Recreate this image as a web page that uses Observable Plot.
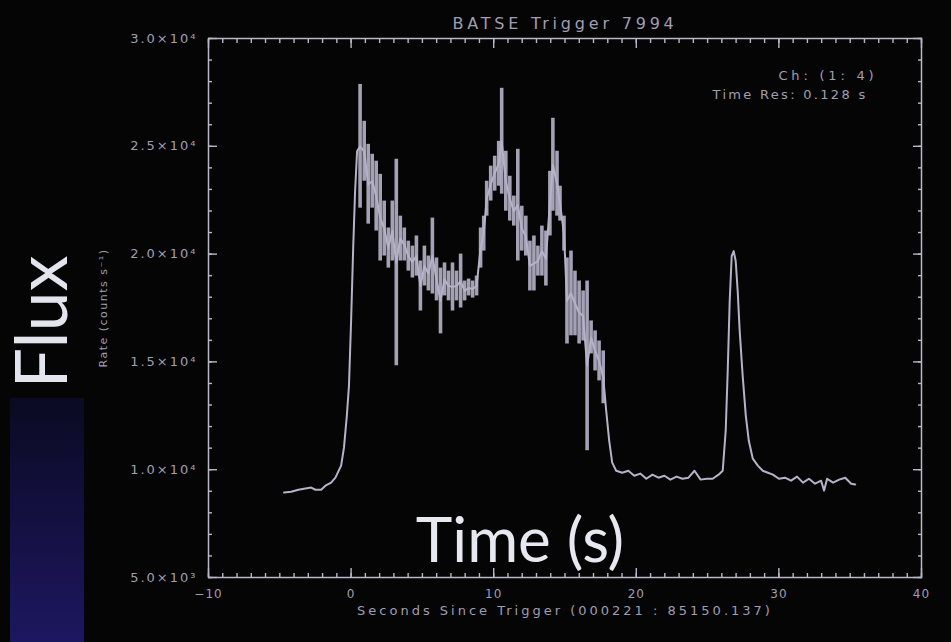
<!DOCTYPE html>
<html><head><meta charset="utf-8">
<script src="https://cdn.jsdelivr.net/npm/d3@7"></script>
<script src="https://cdn.jsdelivr.net/npm/@observablehq/plot@0.6"></script>
<style>
html,body{margin:0;padding:0;background:#050505;}
#wrap{position:relative;width:951px;height:642px;overflow:hidden;background:#050505;}
#wrap svg{position:absolute;left:0;top:0;}
#bar{position:absolute;left:10px;top:398px;width:74px;height:244px;background:linear-gradient(#0a0a22,#1d1760);}
#flux{position:absolute;left:40px;top:322px;writing-mode:vertical-rl;transform:translate(-50%,-50%) rotate(180deg);font:72px Lato,"Open Sans",sans-serif;color:#e4e4ee;white-space:nowrap;line-height:0.8;}
#time{position:absolute;left:520px;top:538px;transform:translate(-50%,-50%);font:62px Lato,"Open Sans",sans-serif;color:#e8e8f0;white-space:nowrap;line-height:1;}
</style></head><body><div id="wrap"><div id="bar"></div></div>
<script>
// ---- data ----
const title = "BATSE Trigger 7994";
const xLabel = "Seconds Since Trigger (000221 : 85150.137)";
const yLabel = "Rate (counts s\u207B\u00B9)";
const notes = ["Ch: (1: 4)", "Time Res: 0.128 s"];
const xTicks = [-10, 0, 10, 20, 30, 40];
const yTicks = [5000, 10000, 15000, 20000, 25000, 30000];

const time = [-4.7,-4.2,-3.7,-3.3,-2.8,-2.5,-2.1,-1.8,-1.4,-1.1,-0.7,-0.5,-0.3,-0.15,0.0,0.14,0.28,0.42,
0.63,0.92,1.20,1.48,1.76,2.04,2.32,2.61,2.89,3.17,3.45,3.73,4.01,4.30,4.58,4.86,5.14,5.42,5.70,5.99,6.27,6.55,6.83,7.11,7.39,7.68,7.96,8.24,8.52,8.80,9.08,9.30,9.51,9.79,10.07,10.35,10.56,10.85,11.13,11.41,11.69,11.97,12.25,12.54,12.82,13.10,13.38,13.66,13.94,14.15,14.44,14.65,14.93,15.14,15.42,15.70,15.99,16.27,16.55,16.83,17.11,17.39,17.68,
17.89,18.10,18.31,18.59,19.01,19.44,19.86,20.28,20.70,21.13,21.55,21.97,22.39,22.82,23.24,23.66,24.08,24.51,24.93,25.35,25.77,26.06,26.27,26.41,26.55,26.69,26.83,26.97,27.11,27.25,27.46,27.68,27.89,28.17,28.52,28.87,29.23,29.58,30.00,30.42,30.85,31.27,31.69,32.11,32.54,32.96,33.17,33.38,33.80,34.23,34.65,35.07,35.35];

const rate = [8940,8980,9070,9120,9170,9070,9070,9260,9400,9630,10190,11020,12500,13890,16900,20140,22920,24770,
25000,24770,23240,23380,22690,21700,21180,20280,21070,19610,20720,20440,19910,19630,19910,18520,19450,19100,19910,18820,17830,18820,18520,18480,18520,18750,18290,18430,18380,18520,20280,20950,22570,23240,23750,24190,25230,23380,22570,21990,22270,21180,20840,19450,19560,19680,20140,19790,22340,24150,23260,22340,20950,17830,18180,17710,17290,17130,14820,16130,15510,15050,14280,
12730,11340,10330,9950,9860,9950,9720,9820,9580,9770,9630,9720,9540,9680,9580,9630,9950,9540,9580,9580,9770,9950,11810,14580,17830,19910,20140,19680,18290,16440,14350,12500,11340,10510,10190,9950,9860,9770,9580,9630,9490,9680,9400,9580,9350,9490,9030,9580,9400,9540,9630,9350,9310];

// error bars in the burst
const errTime = [0.63,0.92,1.20,1.48,1.76,2.04,2.32,2.61,2.89,3.17,3.45,3.73,4.01,4.30,4.58,4.86,5.14,5.42,5.70,5.99,6.27,6.55,6.83,7.11,7.39,7.68,7.96,8.24,8.52,8.80,9.08,9.30,9.51,9.79,10.07,10.35,10.56,10.85,11.13,11.41,11.69,11.97,12.25,12.54,12.82,13.10,13.38,13.66,13.94,14.15,14.44,14.65,14.93,15.14,15.42,15.70,15.99,16.27,16.55,16.83,17.11,17.39,17.68];
const errHigh = [27870,26160,25090,24630,24310,23700,22460,21210,22460,24400,21760,21210,20600,20370,20840,19680,20370,19910,21670,19820,19350,19590,19210,19590,19210,20000,18750,18840,18750,18980,21210,21760,23380,24080,24540,25230,27690,24770,23610,22690,24860,22220,21760,20600,20840,20370,21300,21070,23840,26300,24770,23150,21760,19820,20140,19210,18750,18290,18750,16900,16440,15970,15510];
const errLow = [22130,23380,21390,22130,21070,19680,19910,19350,19680,14820,19680,19680,19210,18890,18980,17360,18520,18290,18150,17830,16300,18060,17830,17360,17830,17500,17830,18060,17960,18060,19350,20140,21760,22460,22920,23150,22780,21990,21530,21300,19680,20140,19910,18290,18290,18980,18980,18520,20840,21990,21760,21530,20140,15830,16210,16210,15830,15970,10880,15370,14580,14120,13060];

// ---- build ----
const curve = time.map((t, i) => ({t, r: rate[i]}));
const bars = errTime.map((t, i) => ({t, lo: errLow[i], hi: errHigh[i]}));
const xMinor = d3.range(-10, 40.5, 1);
const yMinor = d3.range(5000, 30001, 1000);
const sup = {3: "\u00B3", 4: "\u2074"};
const fmtY = d => { const e = Math.floor(Math.log10(d)); return (d / 10 ** e).toFixed(1) + "\u00D710" + sup[e]; };
const fmtX = d => d < 0 ? "\u2212" + Math.abs(d) : String(d);

const axisColor = "#bab8c8";
const textColor = "#a09eb0";
const dataColor = "#b6b2c8";
const font = "DejaVu Sans";

const tickAxis = (kind, anchor, ticks, size) => {
  const o = {anchor, ticks, tickSize: size, tickFormat: () => "", label: null, stroke: axisColor, strokeWidth: 1.4};
  if (kind === "x") { o.dy = anchor === "bottom" ? -size : size; return Plot.axisX(ticks, o); }
  o.dx = anchor === "left" ? size : -size; return Plot.axisY(ticks, o);
};

const chart = Plot.plot({
  width: 951, height: 642,
  marginLeft: 208, marginRight: 30, marginTop: 38, marginBottom: 65,
  style: {background: "transparent", fontFamily: font},
  x: {domain: [-10, 40]},
  y: {domain: [5000, 30000]},
  marks: [
    Plot.ruleX(bars, {x: "t", y1: "lo", y2: "hi", stroke: dataColor, strokeWidth: 3.6, strokeOpacity: 0.9}),
    Plot.line(curve, {x: "t", y: "r", stroke: dataColor, strokeWidth: 2}),
    Plot.frame({stroke: axisColor, strokeWidth: 1.5}),
    tickAxis("x", "bottom", xMinor, 4), tickAxis("x", "bottom", xTicks, 9),
    tickAxis("x", "top", xMinor, 4), tickAxis("x", "top", xTicks, 9),
    tickAxis("y", "left", yMinor, 4), tickAxis("y", "left", yTicks, 9),
    tickAxis("y", "right", yMinor, 4), tickAxis("y", "right", yTicks, 9),
    Plot.axisX(xTicks, {anchor: "bottom", tickSize: 0, tickPadding: 12, tickFormat: fmtX, label: null, fill: textColor, fontSize: 12}),
    Plot.axisY(yTicks, {anchor: "left", tickSize: 0, tickPadding: 11, tickFormat: fmtY, label: null, fill: textColor, fontSize: 13}),
    Plot.text([title], {frameAnchor: "top", dy: -21, text: d => d, fill: textColor, fontSize: 16}),
    Plot.text([xLabel], {frameAnchor: "bottom", dy: 37, text: d => d, fill: textColor, fontSize: 13}),
    Plot.text([yLabel], {frameAnchor: "left", dx: -105, rotate: -90, textAnchor: "middle", text: d => d, fill: textColor, fontSize: 11}),
    Plot.text([notes[0]], {frameAnchor: "top-right", dx: -44, dy: 32, textAnchor: "end", text: d => d, fill: textColor, fontSize: 13}),
    Plot.text([notes[1]], {frameAnchor: "top-right", dx: -54, dy: 51, textAnchor: "end", text: d => d, fill: textColor, fontSize: 13})
  ]
});

// widen the lettering to match the wide vector font of the original
const spacing = new Map([[title, 3.8], [xLabel, 3.0], [yLabel, 1.5], [notes[0], 3.8], [notes[1], 2.3]]);
chart.querySelectorAll("text").forEach(el => {
  const s = el.textContent;
  if (spacing.has(s)) el.setAttribute("letter-spacing", spacing.get(s));
  else if (s.includes("\u00D7")) el.setAttribute("letter-spacing", 2);
  else if (/^[\u2212\d]+$/.test(s)) el.setAttribute("letter-spacing", 1);
});

const wrap = document.getElementById("wrap");
wrap.insertBefore(chart, wrap.firstChild);
const flux = document.createElement("div"); flux.id = "flux"; flux.textContent = "Flux"; wrap.appendChild(flux);
const tm = document.createElement("div"); tm.id = "time"; tm.textContent = "Time (s)"; wrap.appendChild(tm);
</script></body></html>
